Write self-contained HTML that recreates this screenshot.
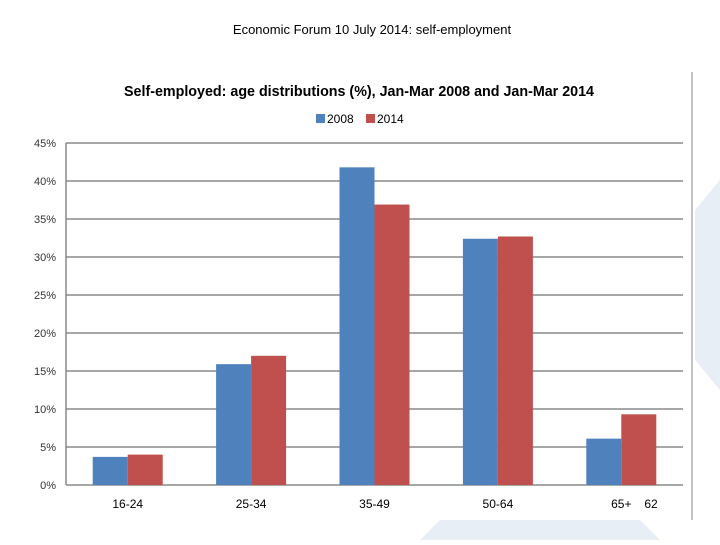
<!DOCTYPE html>
<html><head><meta charset="utf-8"><style>
body{margin:0;width:720px;height:540px;background:#fff;overflow:hidden;font-family:"Liberation Sans",sans-serif;}
</style></head><body>
<svg width="720" height="540" xmlns="http://www.w3.org/2000/svg">
<polygon points="420,540 440,520 640,520 660,540" fill="#e8eef6"/>
<polygon points="720,180 720,390 695,360 695,210" fill="#e8eef6"/>
<text x="372" y="34" text-anchor="middle" font-size="13" fill="#000">Economic Forum 10 July 2014: self-employment</text>
<line x1="692" y1="72" x2="692" y2="520" stroke="#888" stroke-width="1"/>
<text x="124" y="96" textLength="470" lengthAdjust="spacingAndGlyphs" font-size="15" font-weight="bold" fill="#000">Self-employed: age distributions (%), Jan-Mar 2008 and Jan-Mar 2014</text>
<g>
<rect x="316" y="114" width="9" height="9" fill="#4f81bd"/>
<text x="327" y="123" font-size="12" fill="#000">2008</text>
<rect x="366" y="114" width="9" height="9" fill="#c0504d"/>
<text x="377" y="123" font-size="12" fill="#000">2014</text>
</g>
<g id="grid"></g><g id="bars"></g><g id="labels"></g>
<text x="651" y="508" text-anchor="middle" font-size="12" fill="#000">62</text>
</svg>
<script>
const categories=["16-24","25-34","35-49","50-64","65+"];
const values2008=[3.7,15.9,41.8,32.4,6.1];
const values2014=[4.0,17.0,36.9,32.7,9.3];
const yTicks=[0,5,10,15,20,25,30,35,40,45];
const NS="http://www.w3.org/2000/svg";
const x0=66,x1=683,y0=485,y1=143;
const y=v=>y0-(v/45)*(y0-y1);
const step=(x1-x0)/categories.length;
const cx=i=>x0+step*(i+0.5);
const bw=35;
function mk(t,a,p){const e=document.createElementNS(NS,t);for(const k in a)e.setAttribute(k,a[k]);p.appendChild(e);return e;}
const g=document.getElementById('grid'),b=document.getElementById('bars'),l=document.getElementById('labels');
yTicks.forEach(t=>{
 const ln=mk('line',{x1:x0,x2:x1,y1:y(t),y2:y(t),stroke:'#8a8a8a','stroke-width':1.5},g);
 
 
 const tx=mk('text',{x:56,y:y(t)+4,'text-anchor':'end','font-size':11,fill:'#333'},l);
 tx.textContent=t+'%';
 
 
});
const ax=mk('line',{x1:x0,x2:x0,y1:y1,y2:y0,stroke:'#8a8a8a','stroke-width':1.5},g);


categories.forEach((c,i)=>{
 const r1=mk('rect',{x:cx(i)-bw,y:y(values2008[i]),width:bw,height:y0-y(values2008[i]),fill:'#4f81bd'},b);
 
 
 const r2=mk('rect',{x:cx(i),y:y(values2014[i]),width:bw,height:y0-y(values2014[i]),fill:'#c0504d'},b);
 
 
 const t=mk('text',{x:cx(i),y:508,'text-anchor':'middle','font-size':12,fill:'#000'},l);
 t.textContent=c;
 
 
});
</script>
</body></html>
